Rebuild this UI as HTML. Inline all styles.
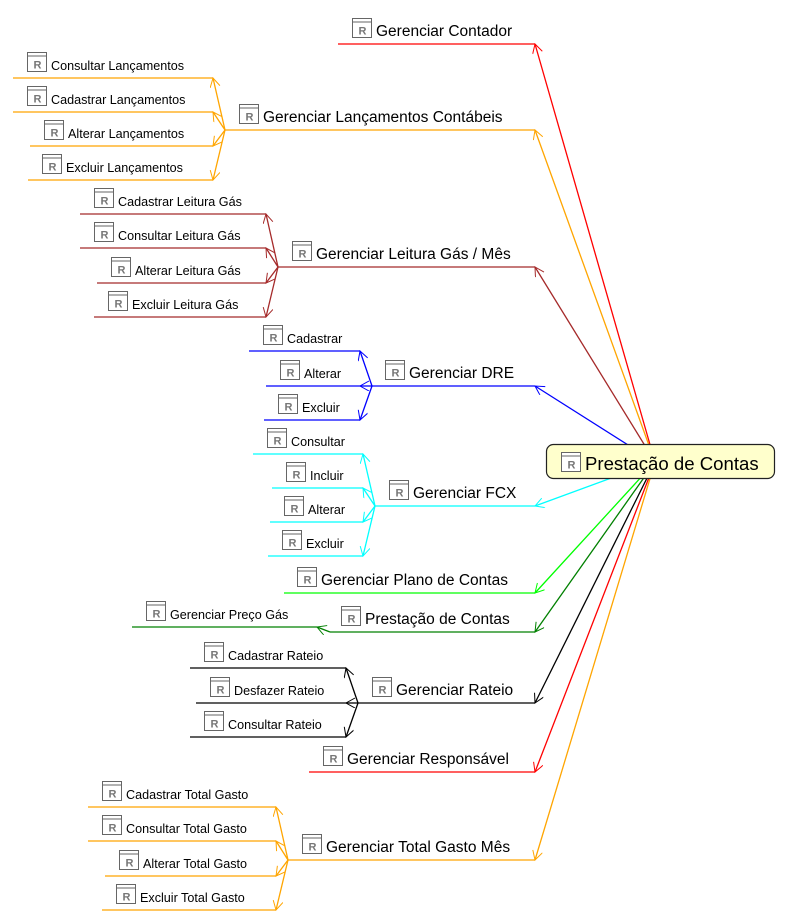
<!DOCTYPE html>
<html><head><meta charset="utf-8"><style>
html,body{margin:0;padding:0;background:#fff}
svg{display:block;font-family:"Liberation Sans",sans-serif}
</style></head><body>
<svg width="788" height="924" viewBox="0 0 788 924" xmlns="http://www.w3.org/2000/svg">
<defs>
<marker id="mred" markerWidth="12" markerHeight="12" refX="10" refY="5" orient="auto" markerUnits="userSpaceOnUse"><path d="M1,0 L10,5 L1,10" fill="none" stroke="#ff0000" stroke-width="1"/></marker>
<marker id="mor" markerWidth="12" markerHeight="12" refX="10" refY="5" orient="auto" markerUnits="userSpaceOnUse"><path d="M1,0 L10,5 L1,10" fill="none" stroke="#ffa500" stroke-width="1"/></marker>
<marker id="mbr" markerWidth="12" markerHeight="12" refX="10" refY="5" orient="auto" markerUnits="userSpaceOnUse"><path d="M1,0 L10,5 L1,10" fill="none" stroke="#a52a2a" stroke-width="1"/></marker>
<marker id="mbl" markerWidth="12" markerHeight="12" refX="10" refY="5" orient="auto" markerUnits="userSpaceOnUse"><path d="M1,0 L10,5 L1,10" fill="none" stroke="#0000ff" stroke-width="1"/></marker>
<marker id="mcy" markerWidth="12" markerHeight="12" refX="10" refY="5" orient="auto" markerUnits="userSpaceOnUse"><path d="M1,0 L10,5 L1,10" fill="none" stroke="#00ffff" stroke-width="1"/></marker>
<marker id="mli" markerWidth="12" markerHeight="12" refX="10" refY="5" orient="auto" markerUnits="userSpaceOnUse"><path d="M1,0 L10,5 L1,10" fill="none" stroke="#00ff00" stroke-width="1"/></marker>
<marker id="mgr" markerWidth="12" markerHeight="12" refX="10" refY="5" orient="auto" markerUnits="userSpaceOnUse"><path d="M1,0 L10,5 L1,10" fill="none" stroke="#008000" stroke-width="1"/></marker>
<marker id="mbk" markerWidth="12" markerHeight="12" refX="10" refY="5" orient="auto" markerUnits="userSpaceOnUse"><path d="M1,0 L10,5 L1,10" fill="none" stroke="#000000" stroke-width="1"/></marker>
<g id="ic"><rect x="0.5" y="0.5" width="19" height="19" fill="#fff" stroke="#666"/><line x1="0.5" y1="4" x2="19.5" y2="4" stroke="#666"/><text x="6.5" y="16.5" font-size="11" font-weight="bold" fill="#777">R</text></g>
<g id="is"><rect x="0.5" y="0.5" width="19" height="19" fill="#fff" stroke="#666"/><line x1="0.5" y1="4" x2="19.5" y2="4" stroke="#666"/><text x="6.5" y="16.5" font-size="11" font-weight="bold" fill="#777">R</text></g>
</defs>
<g fill="none" stroke-width="1.3">
<line x1="655" y1="462" x2="535" y2="44" stroke="#ff0000" marker-end="url(#mred)"/>
<line x1="655" y1="462" x2="535" y2="130" stroke="#ffa500" marker-end="url(#mor)"/>
<line x1="655" y1="462" x2="535" y2="267" stroke="#a52a2a" marker-end="url(#mbr)"/>
<line x1="655" y1="462" x2="535" y2="386" stroke="#0000ff" marker-end="url(#mbl)"/>
<line x1="655" y1="462" x2="535" y2="506" stroke="#00ffff" marker-end="url(#mcy)"/>
<line x1="655" y1="462" x2="535" y2="593" stroke="#00ff00" marker-end="url(#mli)"/>
<line x1="655" y1="462" x2="535" y2="632" stroke="#008000" marker-end="url(#mgr)"/>
<line x1="655" y1="462" x2="535" y2="703" stroke="#000" marker-end="url(#mbk)"/>
<line x1="655" y1="462" x2="535" y2="772" stroke="#ff0000" marker-end="url(#mred)"/>
<line x1="655" y1="462" x2="535" y2="860" stroke="#ffa500" marker-end="url(#mor)"/>
<line x1="338" y1="44" x2="535" y2="44" stroke="#ff0000"/>
<line x1="225" y1="130" x2="535" y2="130" stroke="#ffa500"/>
<line x1="278" y1="267" x2="535" y2="267" stroke="#a52a2a"/>
<line x1="372" y1="386" x2="535" y2="386" stroke="#0000ff"/>
<line x1="375" y1="506" x2="535" y2="506" stroke="#00ffff"/>
<line x1="284" y1="593" x2="535" y2="593" stroke="#00ff00"/>
<line x1="330" y1="632" x2="535" y2="632" stroke="#008000"/>
<line x1="358" y1="703" x2="535" y2="703" stroke="#000"/>
<line x1="309" y1="772" x2="535" y2="772" stroke="#ff0000"/>
<line x1="288" y1="860" x2="535" y2="860" stroke="#ffa500"/>
<g stroke="#ffa500">
<line x1="13" y1="78" x2="213" y2="78"/><line x1="13" y1="112" x2="213" y2="112"/><line x1="30" y1="146" x2="213" y2="146"/><line x1="28" y1="180" x2="213" y2="180"/>
<line x1="225" y1="130" x2="213" y2="78" marker-end="url(#mor)"/><line x1="225" y1="130" x2="213" y2="112" marker-end="url(#mor)"/><line x1="225" y1="130" x2="213" y2="146" marker-end="url(#mor)"/><line x1="225" y1="130" x2="213" y2="180" marker-end="url(#mor)"/>
</g>
<g stroke="#a52a2a">
<line x1="80" y1="214" x2="266" y2="214"/><line x1="80" y1="248" x2="266" y2="248"/><line x1="97" y1="283" x2="266" y2="283"/><line x1="94" y1="317" x2="266" y2="317"/>
<line x1="278" y1="267" x2="266" y2="214" marker-end="url(#mbr)"/><line x1="278" y1="267" x2="266" y2="248" marker-end="url(#mbr)"/><line x1="278" y1="267" x2="266" y2="283" marker-end="url(#mbr)"/><line x1="278" y1="267" x2="266" y2="317" marker-end="url(#mbr)"/>
</g>
<g stroke="#0000ff">
<line x1="249" y1="351" x2="360" y2="351"/><line x1="266" y1="386" x2="360" y2="386"/><line x1="264" y1="420" x2="360" y2="420"/>
<line x1="372" y1="386" x2="360" y2="351" marker-end="url(#mbl)"/><line x1="372" y1="386" x2="360" y2="386" marker-end="url(#mbl)"/><line x1="372" y1="386" x2="360" y2="420" marker-end="url(#mbl)"/>
</g>
<g stroke="#00ffff">
<line x1="253" y1="454" x2="363" y2="454"/><line x1="272" y1="488" x2="363" y2="488"/><line x1="270" y1="522" x2="363" y2="522"/><line x1="268" y1="556" x2="363" y2="556"/>
<line x1="375" y1="506" x2="363" y2="454" marker-end="url(#mcy)"/><line x1="375" y1="506" x2="363" y2="488" marker-end="url(#mcy)"/><line x1="375" y1="506" x2="363" y2="522" marker-end="url(#mcy)"/><line x1="375" y1="506" x2="363" y2="556" marker-end="url(#mcy)"/>
</g>
<g stroke="#008000">
<line x1="132" y1="627" x2="317" y2="627"/>
<line x1="330" y1="632" x2="317" y2="627" marker-end="url(#mgr)"/>
</g>
<g stroke="#000">
<line x1="190" y1="668" x2="346" y2="668"/><line x1="196" y1="703" x2="346" y2="703"/><line x1="190" y1="737" x2="346" y2="737"/>
<line x1="358" y1="703" x2="346" y2="668" marker-end="url(#mbk)"/><line x1="358" y1="703" x2="346" y2="703" marker-end="url(#mbk)"/><line x1="358" y1="703" x2="346" y2="737" marker-end="url(#mbk)"/>
</g>
<g stroke="#ffa500">
<line x1="88" y1="807" x2="276" y2="807"/><line x1="88" y1="841" x2="276" y2="841"/><line x1="105" y1="876" x2="276" y2="876"/><line x1="102" y1="910" x2="276" y2="910"/>
<line x1="288" y1="860" x2="276" y2="807" marker-end="url(#mor)"/><line x1="288" y1="860" x2="276" y2="841" marker-end="url(#mor)"/><line x1="288" y1="860" x2="276" y2="876" marker-end="url(#mor)"/><line x1="288" y1="860" x2="276" y2="910" marker-end="url(#mor)"/>
</g>
</g>
<rect x="546.5" y="444.5" width="228" height="34" rx="7" fill="#ffffcc" stroke="#222" stroke-width="1.2"/>
<use href="#ic" x="561" y="452"/>
<text x="585" y="470" font-size="18.6" fill="#000">Prestação de Contas</text>
<g font-size="15.5" fill="#000">
<use href="#ic" x="352" y="18"/><text x="376" y="36">Gerenciar Contador</text>
<use href="#ic" x="239" y="104"/><text x="263" y="122">Gerenciar Lançamentos Contábeis</text>
<use href="#ic" x="292" y="241"/><text x="316" y="259">Gerenciar Leitura Gás / Mês</text>
<use href="#ic" x="385" y="360"/><text x="409" y="378">Gerenciar DRE</text>
<use href="#ic" x="389" y="480"/><text x="413" y="498">Gerenciar FCX</text>
<use href="#ic" x="297" y="567"/><text x="321" y="585">Gerenciar Plano de Contas</text>
<use href="#ic" x="341" y="606"/><text x="365" y="624">Prestação de Contas</text>
<use href="#ic" x="372" y="677"/><text x="396" y="695">Gerenciar Rateio</text>
<use href="#ic" x="323" y="746"/><text x="347" y="764">Gerenciar Responsável</text>
<use href="#ic" x="302" y="834"/><text x="326" y="852">Gerenciar Total Gasto Mês</text>
</g>
<g font-size="12.6" fill="#000">
<use href="#is" x="27" y="52"/><text x="51" y="70">Consultar Lançamentos</text>
<use href="#is" x="27" y="86"/><text x="51" y="104">Cadastrar Lançamentos</text>
<use href="#is" x="44" y="120"/><text x="68" y="138">Alterar Lançamentos</text>
<use href="#is" x="42" y="154"/><text x="66" y="172">Excluir Lançamentos</text>
<use href="#is" x="94" y="188"/><text x="118" y="206">Cadastrar Leitura Gás</text>
<use href="#is" x="94" y="222"/><text x="118" y="240">Consultar Leitura Gás</text>
<use href="#is" x="111" y="257"/><text x="135" y="275">Alterar Leitura Gás</text>
<use href="#is" x="108" y="291"/><text x="132" y="309">Excluir Leitura Gás</text>
<use href="#is" x="263" y="325"/><text x="287" y="343">Cadastrar</text>
<use href="#is" x="280" y="360"/><text x="304" y="378">Alterar</text>
<use href="#is" x="278" y="394"/><text x="302" y="412">Excluir</text>
<use href="#is" x="267" y="428"/><text x="291" y="446">Consultar</text>
<use href="#is" x="286" y="462"/><text x="310" y="480">Incluir</text>
<use href="#is" x="284" y="496"/><text x="308" y="514">Alterar</text>
<use href="#is" x="282" y="530"/><text x="306" y="548">Excluir</text>
<use href="#is" x="146" y="601"/><text x="170" y="619">Gerenciar Preço Gás</text>
<use href="#is" x="204" y="642"/><text x="228" y="660">Cadastrar Rateio</text>
<use href="#is" x="210" y="677"/><text x="234" y="695">Desfazer Rateio</text>
<use href="#is" x="204" y="711"/><text x="228" y="729">Consultar Rateio</text>
<use href="#is" x="102" y="781"/><text x="126" y="799">Cadastrar Total Gasto</text>
<use href="#is" x="102" y="815"/><text x="126" y="833">Consultar Total Gasto</text>
<use href="#is" x="119" y="850"/><text x="143" y="868">Alterar Total Gasto</text>
<use href="#is" x="116" y="884"/><text x="140" y="902">Excluir Total Gasto</text>
</g>
</svg>
</body></html>
